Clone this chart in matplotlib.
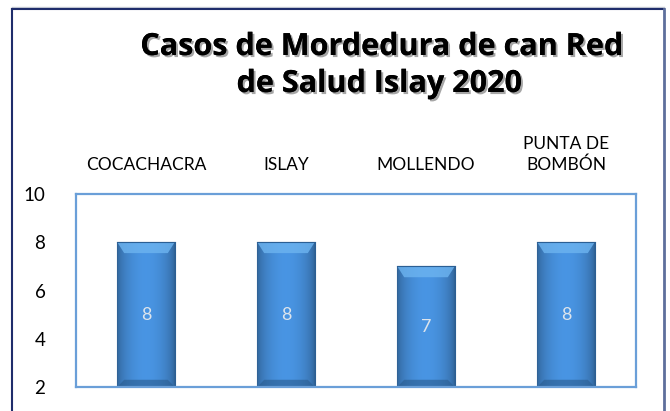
import matplotlib.pyplot as plt
import matplotlib.patheffects as pe
import numpy as np
from matplotlib.lines import Line2D
from matplotlib.patches import Polygon

distritos = ["COCACHACRA", "ISLAY", "MOLLENDO", "PUNTA DE\nBOMBÓN"]
casos = [8, 8, 7, 8]
yticks = [2, 4, 6, 8, 10]

plt.rcParams['font.family'] = ['Lato', 'DejaVu Sans']

W, H = 670, 411
fig = plt.figure(figsize=(W / 100, H / 100), dpi=100)
ax = fig.add_axes([76 / W, 1 - 387 / H, 560 / W, 193 / H])

x = np.arange(len(casos))
y0 = yticks[0]
bars = ax.bar(x, np.array(casos) - y0, bottom=y0, width=0.41, color="#3F86C9",
              edgecolor="#2B5F94", linewidth=0.8, zorder=2)

# shading for the bevelled look
xs = np.linspace(0, 1, 60)
shade = 0.70 + 0.36 * np.sin(np.pi * xs) ** 0.6
base = np.array([0.27, 0.55, 0.84])
img = np.clip(shade[None, :, None] * base[None, None, :], 0, 1)
img = np.repeat(img, 2, axis=0)
for b in bars:
    bx, bw = b.get_x(), b.get_width()
    top_y = b.get_y() + b.get_height()
    im = ax.imshow(img, extent=(bx, bx + bw, b.get_y(), top_y), aspect="auto",
                   zorder=3, interpolation="bilinear")
    im.set_clip_path(b)
    inset = bw * 0.12
    top = Polygon([(bx, top_y), (bx + bw, top_y), (bx + bw - inset, top_y - 0.45),
                   (bx + inset, top_y - 0.45)], closed=True,
                  facecolor="#6DB4F0", edgecolor="none", alpha=0.8, zorder=4)
    ax.add_patch(top)
    bot = Polygon([(bx, y0), (bx + bw, y0), (bx + bw - inset, y0 + 0.3),
                   (bx + inset, y0 + 0.3)], closed=True,
                  facecolor="#2A5C8E", edgecolor="none", alpha=0.6, zorder=4)
    ax.add_patch(bot)
    ax.plot([bx, bx + bw], [top_y, top_y], color="#2B5F94", lw=0.8, zorder=5)
    ax.text(bx + bw / 2, (y0 + top_y) / 2, str(int(top_y)), ha="center", va="center",
            fontsize=13, color="#DCE4EC", zorder=6)

ax.set_xlim(-0.5, len(casos) - 0.5)
ax.set_ylim(2, 10)
ax.set_yticks(yticks)
ax.set_yticklabels([str(t) for t in yticks], fontsize=13.5)
ax.set_xticks(x)
ax.set_xticklabels(distritos, fontsize=12.5, linespacing=1.35)
ax.xaxis.tick_top()
ax.tick_params(axis="x", length=0, pad=15)
ax.tick_params(axis="y", length=0, pad=22)
for s in ax.spines.values():
    s.set_color("#6A9FD8")
    s.set_linewidth(1.6)
    s.set_zorder(7)

title_fx = [pe.withSimplePatchShadow(offset=(1.5, -1.5), alpha=0.35), pe.Normal()]
for tx, ty, line in [(381, 47, "Casos de Mordedura de can Red"),
                     (379, 84, "de Salud Islay 2020")]:
    fig.text(tx / W, 1 - ty / H, line, ha="center", va="center",
             fontsize=22, fontweight="bold", family=["Open Sans", "DejaVu Sans"],
             color="black", path_effects=title_fx)

# outer chart frame
fig.add_artist(Line2D([12 / W, 664 / W], [1 - 7.5 / H, 1 - 7.5 / H], color="#C8CCD6", lw=1))
fig.add_artist(Line2D([12 / W, 664 / W], [1 - 9.5 / H, 1 - 9.5 / H], color="#1F2D6B", lw=1.5))
fig.add_artist(Line2D([12.5 / W, 12.5 / W], [0, 1 - 9.5 / H], color="#1F2D6B", lw=1.5))
fig.add_artist(Line2D([664 / W, 664 / W], [0, 1 - 9.5 / H], color="#5E6F9C", lw=2))

fig.savefig("out.png", dpi=100)
